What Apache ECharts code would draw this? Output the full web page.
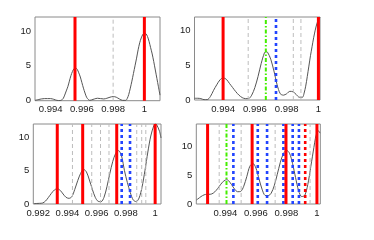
<!DOCTYPE html>
<html><head><meta charset="utf-8">
<script src="https://cdn.jsdelivr.net/npm/echarts@6/dist/echarts.min.js"></script>
<style>html,body{margin:0;padding:0;background:#fff}#c{width:374px;height:240px}</style>
</head><body><div id="c"></div>
<script>
// ---- tick labels ----
const xTicksA = [0.994, 0.996, 0.998, 1];
const xTicksB = [0.992, 0.994, 0.996, 0.998, 1];
const yTicks = [0, 5, 10];

// ---- curves ([x, y]) ----
const curve1 = [[0.9930,0.05],[0.9932,0.15],[0.9934,0.25],[0.9936,0.3],[0.9938,0.3],[0.9940,0.3],[0.9942,0.2],[0.9944,0.05],[0.9946,0.02],
 [0.9947,0.1],[0.9948,0.3],[0.9949,0.8],[0.9950,1.4],[0.9951,2.0],[0.9952,2.8],[0.9953,3.6],[0.9954,4.2],[0.9955,4.6],[0.9956,4.7],
 [0.9957,4.5],[0.9958,4.0],[0.9959,3.4],[0.9960,2.6],[0.9961,1.8],[0.9962,1.1],[0.9963,0.5],[0.9964,0.2],[0.9965,0.05],[0.9966,0.1],
 [0.9968,0.25],[0.9970,0.35],[0.9972,0.3],[0.9974,0.25],[0.9976,0.35],[0.9978,0.5],[0.9980,0.6],[0.9982,0.5],[0.9984,0.25],[0.9986,0.05],[0.9988,0.05],
 [0.9989,0.3],[0.9990,0.9],[0.9991,1.8],[0.9992,2.8],[0.9993,3.9],[0.9994,5.0],[0.9995,6.1],[0.9996,7.3],[0.9997,8.3],[0.9998,9.0],[0.9999,9.5],
 [1.0000,9.7],[1.0001,9.6],[1.0002,9.2],[1.0003,8.5],[1.0004,7.6],[1.0005,6.7],[1.0006,5.6],[1.0007,4.4],[1.0008,3.2],[1.0009,2.0],[1.0010,0.8]];
const curve2 = [[0.9922,0.25],[0.9924,0.25],[0.9926,0.2],[0.9928,0.05],[0.9930,0.05],[0.9932,0.5],[0.9934,1.4],[0.9936,2.2],[0.9938,2.9],
 [0.9940,3.2],[0.9942,3.0],[0.9944,2.4],[0.9946,1.8],[0.9948,1.2],[0.9950,0.7],[0.9952,0.35],[0.9954,0.2],[0.9956,0.2],[0.9958,0.7],
 [0.9960,1.8],[0.9962,3.4],[0.9964,5.3],[0.9966,6.8],[0.9967,7.0],[0.9968,6.9],[0.9970,5.9],[0.9972,4.2],[0.9974,2.2],[0.9976,0.9],
 [0.9978,0.7],[0.9980,0.9],[0.9982,1.25],[0.9984,1.2],[0.9986,0.8],[0.9988,0.4],[0.9990,0.4],[0.9991,1.0],[0.9992,2.0],[0.9993,3.4],
 [0.9994,4.9],[0.9995,6.4],[0.9996,7.7],[0.9997,9.0],[0.9998,10.1],[0.9999,11.0],[1.0000,11.6],[1.0001,11.9]];
const curve3 = [[0.9917,0.05],[0.9919,0.08],[0.9921,0.1],[0.9923,0.15],[0.9925,0.45],[0.9927,1.0],[0.9929,1.6],[0.9931,2.1],[0.9933,2.3],
 [0.9935,2.05],[0.9937,1.5],[0.9939,1.0],[0.9941,0.85],[0.9943,1.1],[0.9945,2.2],[0.9947,3.5],[0.9949,4.6],[0.9951,5.2],[0.9953,4.8],
 [0.9955,3.6],[0.9957,2.2],[0.9959,1.0],[0.9961,0.4],[0.9963,0.35],[0.9965,1.0],[0.9967,2.6],[0.9969,4.6],[0.9971,6.4],[0.9973,7.6],
 [0.9975,8.0],[0.9977,7.2],[0.9979,5.0],[0.9981,3.2],[0.9983,1.7],[0.9985,0.6],[0.9987,0.35],[0.9989,0.9],[0.9991,2.5],[0.9993,5.0],
 [0.9995,7.8],[0.9997,10.2],[0.9999,11.7],[1.0000,12.0],[1.0001,11.9],[1.0003,10.9],[1.0004,9.9]];
const curve4 = [[0.9921,0.7],[0.9922,0.9],[0.9924,1.3],[0.9926,1.6],[0.9928,1.7],[0.9930,1.7],[0.9932,1.9],[0.9934,2.4],[0.9936,3.1],
 [0.9938,3.8],[0.9940,4.2],[0.9941,4.25],[0.9942,4.1],[0.9944,3.4],[0.9946,2.6],[0.9948,2.15],[0.9950,2.2],[0.9952,3.1],[0.9954,4.8],
 [0.9956,6.6],[0.9958,7.1],[0.9960,6.3],[0.9962,4.4],[0.9964,2.6],[0.9966,1.5],[0.9968,1.45],[0.9970,1.9],[0.9972,3.2],[0.9974,5.2],
 [0.9976,7.3],[0.9978,8.8],[0.9980,9.4],[0.9982,8.9],[0.9984,7.1],[0.9986,4.6],[0.9988,2.3],[0.9990,1.3],[0.9992,1.5],[0.9994,3.4],
 [0.9996,6.6],[0.9998,9.9],[0.9999,11.5],[1.0000,12.5],[1.0001,12.8],[1.0002,12.4]];

// ---- vertical marker positions ----
const red1 = [0.99556, 1.0], gray1 = [0.998], green1 = [], blue1 = [], redDot1 = [];
const red2 = [0.994, 1.0], gray2 = [0.99558, 0.99842, 0.9989], green2 = [0.99669], blue2 = [0.99733], redDot2 = [];
const red3 = [0.9933, 0.99504, 0.99737, 1.0], gray3 = [0.99434, 0.99566, 0.99626, 0.99684, 0.99874, 0.99908, 0.99936], green3 = [], blue3 = [0.99771, 0.99828], redDot3 = [];
const red4 = [0.99283, 0.99575, 0.99797, 1.0], gray4 = [0.99359, 0.99503, 0.99726, 0.99955], green4 = [0.99407], blue4 = [0.99452, 0.99612, 0.99673, 0.9978, 0.99841, 0.99882], redDot4 = [0.99923];

const panels = [
  {grid:{left:35, top:17, width:125, height:83.7}, xr:[0.993,1.001], ymax:12, xt:xTicksA, curve:curve1, red:red1, gray:gray1, green:green1, blue:blue1, redDot:redDot1},
  {grid:{left:194.5, top:17, width:125.5, height:83}, xr:[0.9922,1.0001], ymax:12, xt:xTicksA, curve:curve2, red:red2, gray:gray2, green:green2, blue:blue2, redDot:redDot2},
  {grid:{left:33.3, top:124, width:127.7, height:80}, xr:[0.99166,1.0004], ymax:12, xt:xTicksB, curve:curve3, red:red3, gray:gray3, green:green3, blue:blue3, redDot:redDot3},
  {grid:{left:196.3, top:124, width:124, height:80}, xr:[0.99209,1.00022], ymax:14, xt:xTicksA, curve:curve4, red:red4, gray:gray4, green:green4, blue:blue4, redDot:redDot4}
];

const font = {fontSize:9.5, color:'#1a1a1a', fontFamily:'Liberation Sans, Arial, sans-serif'};
const grids = [], xAxes = [], yAxes = [], series = [];
function vline(i, v, ymax, style, z) {
  series.push({type:'line', xAxisIndex:i, yAxisIndex:i, data:[[v,0],[v,ymax]], showSymbol:false,
    symbol:'none', lineStyle:style, z:z, silent:true, clip:true});
}
panels.forEach((p, i) => {
  grids.push(Object.assign({show:true, borderColor:'#8a8a8a', borderWidth:1, backgroundColor:'#fff'}, p.grid));
  xAxes.push({type:'value', gridIndex:i, min:p.xr[0], max:p.xr[1],
    axisLine:{show:false}, axisTick:{show:false}, splitLine:{show:false},
    axisLabel:Object.assign({margin:4, customValues:p.xt, formatter:v => (Math.abs(v-1)<1e-9 ? '1' : v.toFixed(3))}, font)});
  yAxes.push({type:'value', gridIndex:i, min:0, max:p.ymax,
    axisLine:{show:false}, axisTick:{show:false}, splitLine:{show:false},
    axisLabel:Object.assign({margin:4, customValues:yTicks, formatter:v => String(v)}, font)});
  series.push({type:'line', xAxisIndex:i, yAxisIndex:i, data:p.curve, showSymbol:false, symbol:'none', smooth:0.3,
    lineStyle:{color:'#555', width:1}, z:2, silent:true});
  p.gray.forEach(v => vline(i, v, p.ymax, {color:'#bdbdbd', width:1, type:[4,3]}, 3));
  p.green.forEach(v => vline(i, v, p.ymax, {color:'#44ee00', width:2, type:[4,2,1.5,2]}, 4));
  p.blue.forEach(v => vline(i, v, p.ymax, {color:'#2244ff', width:2.6, type:[3,3]}, 4));
  p.redDot.forEach(v => vline(i, v, p.ymax, {color:'#ff0000', width:2.6, type:[3,3]}, 4));
  p.red.forEach(v => vline(i, v, p.ymax, {color:'#ff0000', width:3, type:'solid'}, 5));
});

const chart = echarts.init(document.getElementById('c'), null, {renderer:'canvas'});
chart.setOption({animation:false, backgroundColor:'#fff', grid:grids, xAxis:xAxes, yAxis:yAxes, series:series});
</script></body></html>
